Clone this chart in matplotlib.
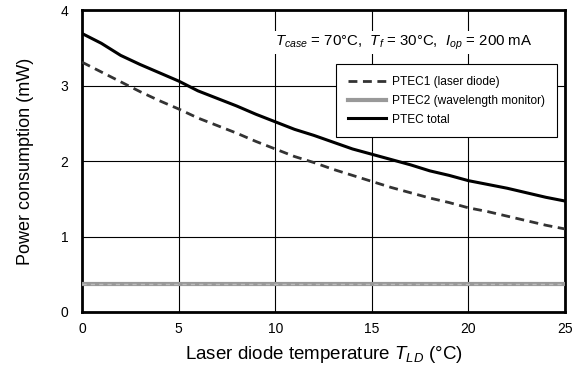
import numpy as np
import matplotlib
matplotlib.use('Agg')
import matplotlib.pyplot as plt

plt.rcParams['font.family'] = ['Liberation Sans', 'DejaVu Sans']
plt.rcParams['mathtext.fontset'] = 'custom'
plt.rcParams['mathtext.rm'] = 'Liberation Sans'
plt.rcParams['mathtext.it'] = 'Liberation Sans:italic'

# laser diode temperature (degC)
t_ld = list(range(0, 26))

# TEC power consumption (mW)
ptec1 = [3.31, 3.18, 3.05, 2.92, 2.80, 2.69, 2.57, 2.47, 2.37, 2.26,
         2.16, 2.06, 1.98, 1.89, 1.81, 1.73, 1.65, 1.58, 1.51, 1.45,
         1.38, 1.33, 1.27, 1.21, 1.15, 1.10]
ptec2 = [0.37] * 26
ptec_total = [3.69, 3.56, 3.40, 3.28, 3.17, 3.06, 2.93, 2.83, 2.73, 2.62,
              2.52, 2.42, 2.34, 2.25, 2.16, 2.09, 2.02, 1.95, 1.87, 1.81,
              1.74, 1.69, 1.64, 1.58, 1.52, 1.47]

x_ticks = [0, 5, 10, 15, 20, 25]
y_ticks = [0, 1, 2, 3, 4]

fig = plt.figure(figsize=(5.76, 3.74), dpi=100)
ax = fig.add_axes([0.1424, 0.1658, 0.8386, 0.8072])

ax.plot(t_ld, ptec1, color='#333333', lw=2.0, ls=(0, (3.2, 2.0)),
        label='PTEC1 (laser diode)', zorder=3)
ax.plot(t_ld, ptec2, color='#999999', lw=3.0,
        label='PTEC2 (wavelength monitor)', zorder=3)
# faint lighter dashes running along the monitor line
ax.plot(t_ld, ptec2, color='#bbbbbb', lw=1.0, ls=(0, (3, 3)), zorder=3)
ax.plot(t_ld, ptec_total, color='black', lw=2.2, label='PTEC total', zorder=4)

ax.set_xlim(0, 25)
ax.set_ylim(0, 4)
ax.set_xticks(x_ticks)
ax.set_yticks(y_ticks)
ax.grid(True, color='black', lw=0.8)
ax.set_axisbelow(True)
ax.tick_params(length=0, labelsize=10, pad=7)
ax.tick_params(axis='y', pad=10)
for sp in ax.spines.values():
    sp.set_linewidth(2.0)

ax.set_xlabel(r'Laser diode temperature $T_{LD}$ (°C)', fontsize=13.5, labelpad=6)
ax.set_ylabel('Power consumption (mW)', fontsize=13, labelpad=19)

ax.text(0.40, 0.893, r'$T_{case}$ = 70°C,  $T_f$ = 30°C,  $I_{op}$ = 200 mA',
        transform=ax.transAxes, fontsize=10.8, ha='left', va='center',
        bbox=dict(facecolor='white', edgecolor='none', pad=1.5), zorder=5)

leg = ax.legend(loc='upper right', bbox_to_anchor=(0.983, 0.82), fontsize=8.6,
                frameon=True, fancybox=False, edgecolor='black', framealpha=1,
                handlelength=3.2, handletextpad=0.5, borderpad=1.0,
                labelspacing=0.55, borderaxespad=0)
leg.get_frame().set_linewidth(0.8)

fig.savefig('out.png', dpi=100)
